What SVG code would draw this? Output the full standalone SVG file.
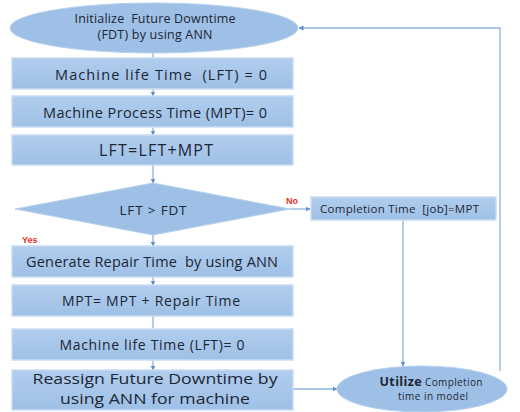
<svg xmlns="http://www.w3.org/2000/svg" width="520" height="412" viewBox="0 0 520 412">
<defs>
<linearGradient id="g" x1="0" y1="0" x2="0" y2="1">
<stop offset="0" stop-color="#b0cdee"/>
<stop offset="1" stop-color="#9fc0e6"/>
</linearGradient>
<marker id="ah" viewBox="0 0 10 10" refX="9" refY="5" markerWidth="5" markerHeight="5" orient="auto" markerUnits="userSpaceOnUse">
<path d="M0,0 L10,5 L0,10 z" fill="#5b8fd0"/>
</marker>
</defs>
<style>
.box{fill:url(#g);stroke:#c9dcf2;stroke-width:1.5}
.ell{fill:#9fc0e6;stroke:#b5d0ee;stroke-width:1}
.t{font-family:"Open Sans","Liberation Sans",sans-serif;fill:#1c2634;text-anchor:middle;white-space:pre}
.c{fill:none;stroke:#8fb2df;stroke-width:1.3}
.lab{font-family:"Liberation Sans",sans-serif;font-size:9px;fill:#e8302a;font-weight:bold}
</style>
<rect width="520" height="412" fill="#ffffff"/>
<g id="connectors">
<line class="c" x1="153" y1="53" x2="153" y2="58"/>
<line class="c" x1="153" y1="89" x2="153" y2="96" marker-end="url(#ah)"/>
<line class="c" x1="153" y1="127" x2="153" y2="135" marker-end="url(#ah)"/>
<line class="c" x1="153" y1="165" x2="153" y2="183" marker-end="url(#ah)"/>
<line class="c" x1="153" y1="235" x2="153" y2="246" marker-end="url(#ah)"/>
<line class="c" x1="153" y1="277" x2="153" y2="285" marker-end="url(#ah)"/>
<line class="c" x1="153" y1="316" x2="153" y2="329"/>
<line class="c" x1="153" y1="360" x2="153" y2="370" marker-end="url(#ah)"/>
<line class="c" x1="290" y1="209" x2="310" y2="209" marker-end="url(#ah)"/>
<line class="c" x1="403" y1="220" x2="403" y2="366" marker-end="url(#ah)"/>
<line class="c" x1="293" y1="389" x2="337" y2="389" marker-end="url(#ah)"/>
<polyline class="c" points="500,371 500,28 299,28" marker-end="url(#ah)"/>
</g>
<g id="n-init">
<ellipse class="ell" cx="154" cy="28" rx="144" ry="25"/>
<text class="t" x="155" y="23" font-size="12.5" textLength="161">Initialize  Future Downtime</text>
<text class="t" x="155" y="39" font-size="12.5" textLength="115">(FDT) by using ANN</text>
</g>
<g id="n-lft0">
<rect class="box" x="12" y="58" width="281" height="31"/>
<text class="t" x="161" y="80" font-size="14.5" textLength="212">Machine life Time  (LFT) = 0</text>
</g>
<g id="n-mpt0">
<rect class="box" x="12" y="96" width="281" height="31"/>
<text class="t" x="155" y="118" font-size="14.5" textLength="224">Machine Process Time (MPT)= 0</text>
</g>
<g id="n-lftsum">
<rect class="box" x="12" y="135" width="281" height="30"/>
<text class="t" x="156" y="156" font-size="16" textLength="114">LFT=LFT+MPT</text>
</g>
<g id="n-decision">
<polygon class="ell" points="15,209 153,183 290,209 153,235"/>
<text class="t" x="153" y="215" font-size="13.5" textLength="67">LFT &gt; FDT</text>
</g>
<text class="lab" x="286" y="204">No</text>
<text class="lab" x="22" y="243">Yes</text>
<g id="n-repair">
<rect class="box" x="12" y="246" width="281" height="31"/>
<text class="t" x="152" y="267" font-size="14.5" textLength="252">Generate Repair Time  by using ANN</text>
</g>
<g id="n-mptsum">
<rect class="box" x="12" y="285" width="281" height="31"/>
<text class="t" x="151" y="306" font-size="14" textLength="178">MPT= MPT + Repair Time</text>
</g>
<g id="n-lftreset">
<rect class="box" x="12" y="329" width="281" height="31"/>
<text class="t" x="152" y="350" font-size="14" textLength="185">Machine life Time (LFT)= 0</text>
</g>
<g id="n-reassign">
<rect class="box" x="12" y="370" width="281" height="40"/>
<text class="t" x="155" y="383.5" font-size="15" textLength="245" lengthAdjust="spacingAndGlyphs">Reassign Future Downtime by</text>
<text class="t" x="155" y="404" font-size="15" textLength="190" lengthAdjust="spacingAndGlyphs">using ANN for machine</text>
</g>
<g id="n-completion">
<rect class="box" x="311" y="197" width="185" height="23"/>
<text class="t" x="320" y="213" font-size="11.5" textLength="159" style="text-anchor:start">Completion Time  [job]=MPT</text>
</g>
<g id="n-utilize">
<ellipse class="ell" cx="422" cy="389" rx="85" ry="23"/>
<text class="t" x="431" y="386" textLength="103"><tspan font-size="12.5" font-weight="bold">Utilize</tspan><tspan font-size="10"> Completion</tspan></text>
<text class="t" x="433" y="400" font-size="10" textLength="70">time in model</text>
</g>
</svg>
